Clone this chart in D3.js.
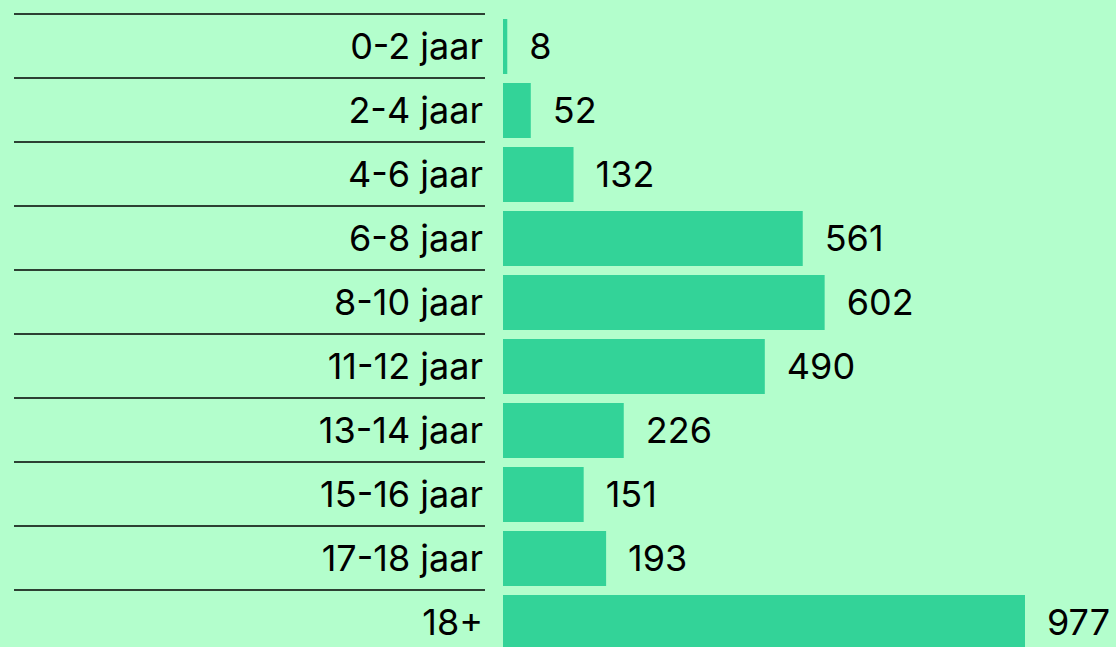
<!DOCTYPE html>
<html>
  <head>
    <style>
      body { margin: 0; background: #b3fecc; }
      svg { display: block; font-family: Inter, "Noto Sans", sans-serif; }
    </style>
  </head>
  <body>
    <svg width="1116" height="647"></svg>

    <script src="https://d3js.org/d3.v7.min.js"></script>
    <script>

      var categories = ["0-2 jaar", "2-4 jaar", "4-6 jaar", "6-8 jaar", "8-10 jaar",
        "11-12 jaar", "13-14 jaar", "15-16 jaar", "17-18 jaar", "18+"];
      var values = [8, 52, 132, 561, 602, 490, 226, 151, 193, 977];

      var data = categories.map(function (c, i) {
        return { cat: c, value: values[i] };
      });

      var svg = d3.select("svg"),
        width = +svg.attr("width"),
        height = +svg.attr("height");

      var pad = 9 / 64;

      var y = d3.scaleBand()
        .domain(categories)
        .range([14, 654])
        .paddingInner(pad)
        .paddingOuter(pad / 2);

      var x = d3.scaleLinear()
        .domain([0, d3.max(values)])
        .range([503, 1025]);

      var step = y.step();

      svg.append("rect")
        .attr("width", width)
        .attr("height", height)
        .attr("fill", "#b3fecc");

      // row separators
      svg.append("g")
        .selectAll("line")
        .data(data)
        .enter().append("line")
        .attr("x1", 14)
        .attr("x2", 485)
        .attr("y1", function (d) { return y(d.cat) - step * pad / 2; })
        .attr("y2", function (d) { return y(d.cat) - step * pad / 2; })
        .attr("stroke", "#000")
        .attr("stroke-width", 1.3);

      svg.append("g")
        .selectAll("rect")
        .data(data)
        .enter().append("rect")
        .attr("x", x(0))
        .attr("y", function (d) { return y(d.cat) + 0.5; })
        .attr("width", function (d) { return x(d.value) - x(0); })
        .attr("height", y.bandwidth())
        .attr("fill", "#33d398");

      svg.append("g")
        .selectAll("text")
        .data(data)
        .enter().append("text")
        .attr("x", 483)
        .attr("y", function (d) { return y(d.cat) + y.bandwidth() / 2; })
        .attr("dy", "0.36em")
        .attr("text-anchor", "end")
        .attr("font-size", 36)
        .attr("fill", "#000")
        .text(function (d) { return d.cat; });

      svg.append("g")
        .selectAll("text")
        .data(data)
        .enter().append("text")
        .attr("x", function (d) { return x(d.value) + 22; })
        .attr("y", function (d) { return y(d.cat) + y.bandwidth() / 2; })
        .attr("dy", "0.36em")
        .attr("font-size", 36)
        .attr("fill", "#000")
        .text(function (d) { return d.value; });

    </script>
  </body>
</html>
